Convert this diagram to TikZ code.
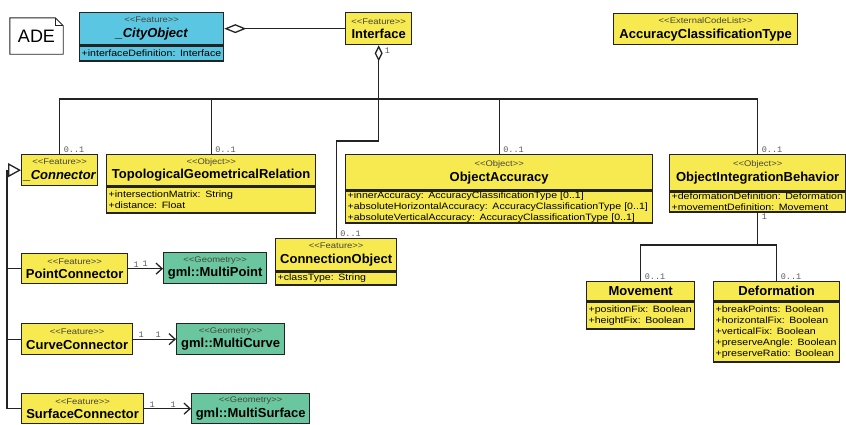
\documentclass[tikz,border=0pt]{standalone}
\usepackage{fontspec}
\setmainfont{Liberation Sans}
\newfontfamily\attrfont{Liberation Sans}[FakeStretch=1.15]
\newfontfamily\multfont{Liberation Mono}
\usepackage{xcolor}
\usetikzlibrary{arrows.meta, positioning, calc}

\definecolor{umlyellow}{RGB}{247,234,80}
\definecolor{umlcyan}{RGB}{90,198,226}
\definecolor{umlgreen}{RGB}{106,198,158}
\definecolor{linecol}{RGB}{35,35,35}
\definecolor{stereocol}{RGB}{70,70,60}
\definecolor{multcol}{RGB}{90,90,90}

\newcommand{\stereo}[1]{{\attrfont\fontsize{8.2}{9}\selectfont\color{stereocol}<{}<#1>{}>}}
\newcommand{\cname}[1]{{\fontsize{13}{14}\selectfont\bfseries #1}}

\begin{document}
\begin{tikzpicture}[
    x=1pt, y=-1pt,
    classhead/.style={draw=linecol, line width=1.3pt, fill=umlyellow, anchor=north west,
        align=center, inner sep=1pt, font=\fontsize{9}{14.5}\selectfont},
    attrbox/.style={draw=linecol, line width=1.3pt, fill=umlyellow, anchor=north west,
        align=left, inner xsep=2pt, inner ysep=0.5pt, font=\attrfont\fontsize{9.2}{11}\selectfont},
    assoc/.style={draw=linecol, line width=1.3pt},
    aggr/.style={assoc, {Diamond[open, length=16pt, width=8pt]}-},
    geoarrow/.style={assoc, -{Straight Barb[length=6pt, width=11pt]}},
    genline/.style={assoc, -{Triangle[open, length=13pt, width=14pt]}},
    mult/.style={font=\multfont\fontsize{8.5}{9}\selectfont, text=multcol, inner sep=1pt},
    note/.style={draw=linecol, line width=0.9pt}
]
    \useasboundingbox (0,0) rectangle (846,424);

    % 1. Note
    \node[font=\fontsize{18}{20}\selectfont, minimum width=53pt, minimum height=36pt, inner sep=0pt] (ade) at (36.5,36) {ADE};
    \draw[note] (ade.south west) -- (ade.north west) -- ([xshift=-8pt]ade.north east)
        -- ([yshift=-8pt]ade.north east) -- (ade.south east) -- cycle;
    \draw[note] ([xshift=-8pt]ade.north east) |- ([yshift=-8pt]ade.north east);

    % 2. Top row
    \node[classhead, fill=umlcyan, minimum width=144pt, minimum height=32pt] (cityobj) at (79,12)
        {\stereo{Feature}\\\cname{\itshape \_CityObject}};
    \node[attrbox, fill=umlcyan, text width=140pt, minimum height=15pt] (cityobj-a) at (cityobj.south west)
        {+interfaceDefinition: Interface};
    \node[classhead, minimum width=66pt, minimum height=32pt] (iface) at (345,12)
        {\stereo{Feature}\\\cname{Interface}};
    \node[classhead, minimum width=184pt, minimum height=31pt] (acctype) at (613,13)
        {\stereo{ExternalCodeList}\\\cname{AccuracyClassificationType}};

    % 3. Second row
    \node[classhead, minimum width=76pt, minimum height=31pt] (conn) at (21,154)
        {\stereo{Feature}\\\cname{\itshape \_Connector}};
    \node[classhead, minimum width=209pt, minimum height=31pt] (tgr) at (106,154)
        {\stereo{Object}\\\cname{TopologicalGeometricalRelation}};
    \node[attrbox, text width=205pt, minimum height=26pt] (tgr-a) at (tgr.south west)
        {+intersectionMatrix: String\\+distance: Float};
    \node[classhead, minimum width=307pt, minimum height=35pt] (oacc) at (345,154)
        {\stereo{Object}\\\cname{ObjectAccuracy}};
    \node[attrbox, text width=303pt, minimum height=32pt] (oacc-a) at (oacc.south west)
        {+innerAccuracy: AccuracyClassificationType [0..1]\\
         +absoluteHorizontalAccuracy: AccuracyClassificationType [0..1]\\
         +absoluteVerticalAccuracy: AccuracyClassificationType [0..1]};
    \node[classhead, minimum width=176pt, minimum height=36pt] (oib) at (669,154)
        {\stereo{Object}\\\cname{ObjectIntegrationBehavior}};
    \node[attrbox, text width=172pt, minimum height=20pt] (oib-a) at (oib.south west)
        {+deformationDefinition: Deformation\\+movementDefinition: Movement};
    \node[classhead, minimum width=121pt, minimum height=32pt] (conobj) at (275,238)
        {\stereo{Feature}\\\cname{ConnectionObject}};
    \node[attrbox, text width=117pt, minimum height=13pt] (conobj-a) at (conobj.south west)
        {+classType: String};

    % 4. Connectors and geometries
    \node[classhead, minimum width=106pt, minimum height=30pt] (pointc) at (21,253)
        {\stereo{Feature}\\\cname{PointConnector}};
    \node[classhead, fill=umlgreen, minimum width=103pt, minimum height=31pt] (mpoint) at (163,252)
        {\stereo{Geometry}\\\cname{gml::MultiPoint}};
    \node[classhead, minimum width=111pt, minimum height=31pt] (curvec) at (21,323)
        {\stereo{Feature}\\\cname{CurveConnector}};
    \node[classhead, fill=umlgreen, minimum width=108pt, minimum height=31pt] (mcurve) at (176,323)
        {\stereo{Geometry}\\\cname{gml::MultiCurve}};
    \node[classhead, minimum width=122pt, minimum height=30pt] (surfc) at (21,393)
        {\stereo{Feature}\\\cname{SurfaceConnector}};
    \node[classhead, fill=umlgreen, minimum width=118pt, minimum height=30pt] (msurf) at (191,393)
        {\stereo{Geometry}\\\cname{gml::MultiSurface}};

    % 5. Movement / Deformation
    \node[classhead, minimum width=108pt, minimum height=19pt] (mov) at (586,281) {\cname{Movement}};
    \node[attrbox, text width=104pt, minimum height=27pt] (mov-a) at (mov.south west)
        {+positionFix: Boolean\\+heightFix: Boolean};
    \node[classhead, minimum width=126pt, minimum height=19pt] (def) at (713,281) {\cname{Deformation}};
    \node[attrbox, text width=122pt, minimum height=60pt] (def-a) at (def.south west)
        {+breakPoints: Boolean\\+horizontalFix: Boolean\\+verticalFix: Boolean\\
         +preserveAngle: Boolean\\+preserveRatio: Boolean};

    % 6. Lines
    \coordinate (bus) at (iface.south |- 0,99);
    \coordinate (elbow) at (iface.south |- 0,141);
    \coordinate (split) at (oib-a.south |- 0,245);
    \coordinate (gen) at (7,0);

    \draw[assoc, {Diamond[open, length=22pt, width=9pt]}-] (cityobj.east) -- (iface.west);
    \draw[aggr] (iface.south) -- (elbow) -| (conobj.north);
    \draw[assoc] (conn.north) |- (bus) -| (oib.north);
    \draw[assoc] (tgr.north) -- (tgr.north |- bus);
    \draw[assoc] (oacc.north) -- (oacc.north |- bus);
    \draw[assoc] (oib-a.south) -- (split);
    \draw[assoc] (mov.north) |- (split) -| (def.north);

    \draw[genline] (surfc.west) -| (gen |- conn.west) -- (conn.west);
    \draw[assoc] (pointc.west) -- (pointc.west -| gen);
    \draw[assoc] (curvec.west) -- (curvec.west -| gen);

    \draw[geoarrow] (pointc.east) -- (pointc.east -| mpoint.west);
    \draw[geoarrow] (curvec.east) -- (curvec.east -| mcurve.west);
    \draw[geoarrow] (surfc.east) -- (surfc.east -| msurf.west);

    % 7. Multiplicities
    \node[mult, anchor=north west] (m-iface) at ([xshift=5pt,yshift=-1pt]iface.south) {1};
    \node[mult, anchor=south west] (m-conn) at ([xshift=3pt]conn.north) {0..1};
    \node[mult, anchor=south west] (m-tgr) at ([xshift=3pt]tgr.north) {0..1};
    \node[mult, anchor=south west] (m-oacc) at ([xshift=3pt]oacc.north) {0..1};
    \node[mult, anchor=south west] (m-oib) at ([xshift=3pt]oib.north) {0..1};
    \node[mult, anchor=south west] (m-conobj) at ([xshift=3pt]conobj.north) {0..1};
    \node[mult, anchor=north west] (m-oiba) at ([xshift=3pt]oib-a.south) {1};
    \node[mult, anchor=south west] (m-mov) at ([xshift=3pt]mov.north) {0..1};
    \node[mult, anchor=south west] (m-def) at ([xshift=3pt]def.north) {0..1};
    \node[mult, anchor=south west] (m-pc1) at ([xshift=4pt]pointc.east) {1};
    \node[mult, anchor=south east] (m-pc2) at ([xshift=-14pt]mpoint.west) {1};
    \node[mult, anchor=south west] (m-cc1) at ([xshift=4pt]curvec.east) {1};
    \node[mult, anchor=south east] (m-cc2) at ([xshift=-14pt]mcurve.west) {1};
    \node[mult, anchor=south west] (m-sc1) at ([xshift=4pt]surfc.east) {1};
    \node[mult, anchor=south east] (m-sc2) at ([xshift=-14pt]msurf.west) {1};

\end{tikzpicture}
\end{document}
